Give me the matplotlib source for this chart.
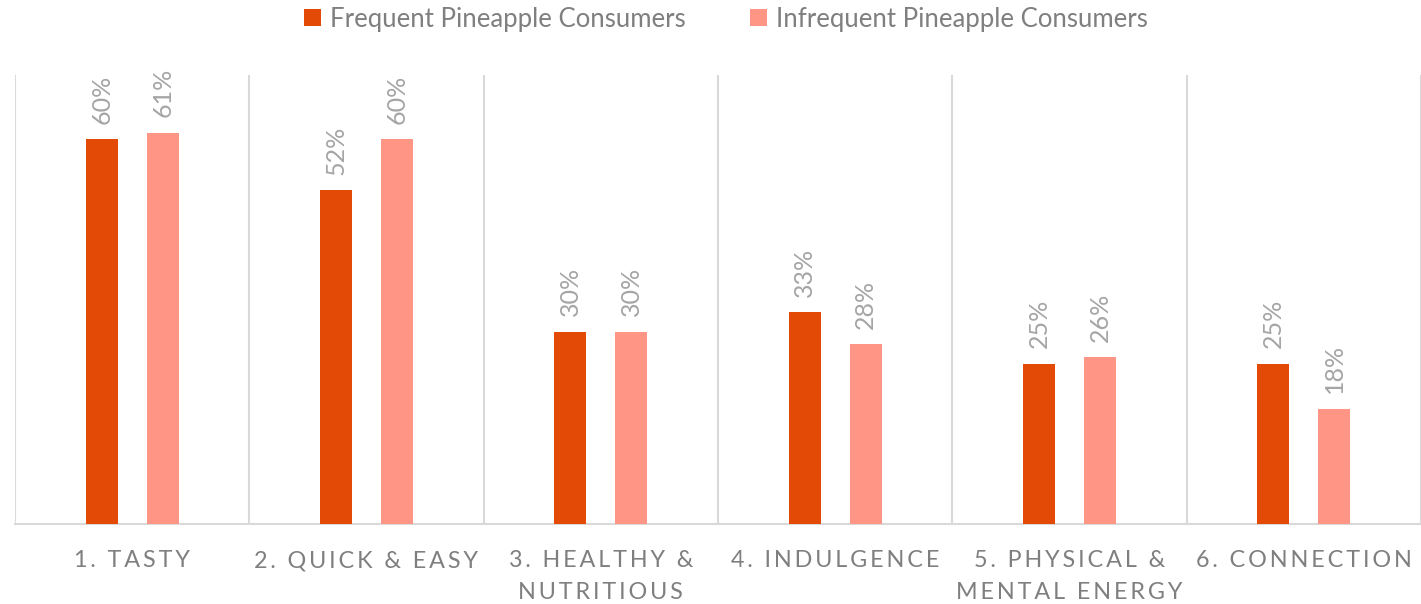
import matplotlib.pyplot as plt
import numpy as np

categories = ["1. TASTY", "2. QUICK & EASY", "3. HEALTHY &\nNUTRITIOUS",
              "4. INDULGENCE", "5. PHYSICAL &\nMENTAL ENERGY", "6. CONNECTION"]
frequent = [60, 52, 30, 33, 25, 25]
infrequent = [61, 60, 30, 28, 26, 18]
series_names = ["Frequent Pineapple Consumers", "Infrequent Pineapple Consumers"]

FONT = ["Lato", "DejaVu Sans"]
plt.rcParams["font.family"] = FONT


def spaced(s):
    # fake letter spacing with thin spaces between characters
    return "\n".join("\u2009".join(line) for line in s.split("\n"))


fig = plt.figure(figsize=(14.21, 6.04), dpi=100)
ax = fig.add_axes([15 / 1421, 80 / 604, 1406 / 1421, 449 / 604])

x = np.arange(len(categories))
w = 0.137
b1 = ax.bar(x - 0.13, frequent, w, color="#E24A05", label=series_names[0], zorder=3)
b2 = ax.bar(x + 0.13, infrequent, w, color="#FF9584", label=series_names[1], zorder=3)

for bars, vals in [(b1, frequent), (b2, infrequent)]:
    for r, v in zip(bars, vals):
        ax.annotate(f"{v}%", (r.get_x() + r.get_width() / 2, v), xytext=(0, 11),
                    textcoords="offset points", rotation=90, ha="center", va="bottom",
                    fontsize=18, color="#A5A5A5")

ax.set_xlim(-0.5, len(categories) - 0.5)
ax.set_ylim(0, 70)

# vertical separators between categories
for b in np.arange(-0.5, len(categories), 1.0):
    ax.axvline(b, color="#D9D9D9", lw=1.5, zorder=1)

for s in ["top", "right", "left"]:
    ax.spines[s].set_visible(False)
ax.spines["bottom"].set_color("#D9D9D9")
ax.spines["bottom"].set_linewidth(1.5)

ax.set_yticks([])
ax.set_xticks(x)
ax.set_xticklabels([spaced(c) for c in categories], fontsize=16.8, color="#7F7F7F",
                   linespacing=1.6)
ax.tick_params(axis="x", length=0, pad=19)

fig.legend(handles=[b1, b2], loc="center", bbox_to_anchor=(726 / 1421, 1 - 19 / 604),
           ncol=2, frameon=False, fontsize=18.5, labelcolor="#7F7F7F",
           handlelength=0.65, handleheight=0.65, handletextpad=0.35, columnspacing=2.5)

fig.savefig("out.png", dpi=100)
